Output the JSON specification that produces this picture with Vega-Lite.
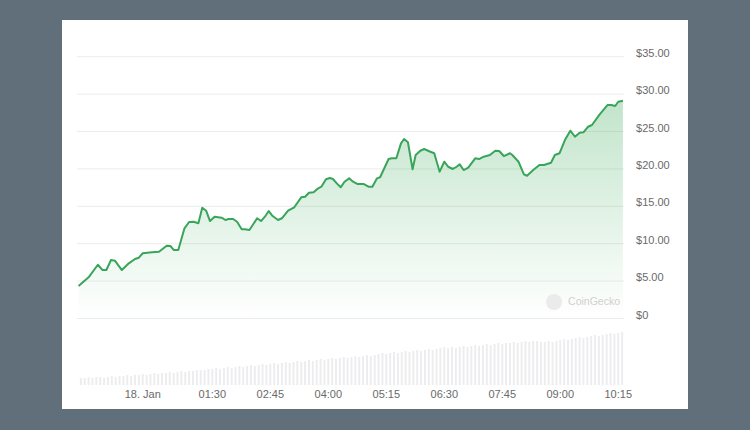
{
  "$schema": "https://vega.github.io/schema/vega-lite/v6.json",
  "width": 626,
  "height": 389,
  "autosize": "none",
  "padding": {"left": 62, "top": 20, "right": 62, "bottom": 21},
  "background": "#606f79",
  "config": {"view": {"fill": "#ffffff", "stroke": null}},
  "datasets": {
    "price": [
      {"t": "2022-01-17T22:37:00Z", "v": 4.34},
      {"t": "2022-01-17T22:50:00Z", "v": 5.51},
      {"t": "2022-01-17T23:02:00Z", "v": 7.19},
      {"t": "2022-01-17T23:08:00Z", "v": 6.48},
      {"t": "2022-01-17T23:13:00Z", "v": 6.48},
      {"t": "2022-01-17T23:19:00Z", "v": 7.82},
      {"t": "2022-01-17T23:24:00Z", "v": 7.73},
      {"t": "2022-01-17T23:33:00Z", "v": 6.48},
      {"t": "2022-01-17T23:42:00Z", "v": 7.38},
      {"t": "2022-01-17T23:50:00Z", "v": 7.95},
      {"t": "2022-01-17T23:55:00Z", "v": 8.13},
      {"t": "2022-01-18T00:00:00Z", "v": 8.72},
      {"t": "2022-01-18T00:12:00Z", "v": 8.85},
      {"t": "2022-01-18T00:21:00Z", "v": 8.93},
      {"t": "2022-01-18T00:31:00Z", "v": 9.73},
      {"t": "2022-01-18T00:36:00Z", "v": 9.69},
      {"t": "2022-01-18T00:40:00Z", "v": 9.16},
      {"t": "2022-01-18T00:46:00Z", "v": 9.16},
      {"t": "2022-01-18T00:54:00Z", "v": 12.06},
      {"t": "2022-01-18T01:00:00Z", "v": 12.90},
      {"t": "2022-01-18T01:06:00Z", "v": 12.94},
      {"t": "2022-01-18T01:12:00Z", "v": 12.73},
      {"t": "2022-01-18T01:17:00Z", "v": 14.81},
      {"t": "2022-01-18T01:22:00Z", "v": 14.41},
      {"t": "2022-01-18T01:27:00Z", "v": 13.03},
      {"t": "2022-01-18T01:33:00Z", "v": 13.61},
      {"t": "2022-01-18T01:42:00Z", "v": 13.48},
      {"t": "2022-01-18T01:47:00Z", "v": 13.17},
      {"t": "2022-01-18T01:51:00Z", "v": 13.30},
      {"t": "2022-01-18T01:57:00Z", "v": 13.30},
      {"t": "2022-01-18T02:02:00Z", "v": 12.94},
      {"t": "2022-01-18T02:08:00Z", "v": 11.93},
      {"t": "2022-01-18T02:12:00Z", "v": 11.93},
      {"t": "2022-01-18T02:18:00Z", "v": 11.83},
      {"t": "2022-01-18T02:28:00Z", "v": 13.40},
      {"t": "2022-01-18T02:33:00Z", "v": 13.03},
      {"t": "2022-01-18T02:38:00Z", "v": 13.61},
      {"t": "2022-01-18T02:43:00Z", "v": 14.37},
      {"t": "2022-01-18T02:48:00Z", "v": 13.70},
      {"t": "2022-01-18T02:55:00Z", "v": 13.17},
      {"t": "2022-01-18T03:00:00Z", "v": 13.40},
      {"t": "2022-01-18T03:08:00Z", "v": 14.41},
      {"t": "2022-01-18T03:16:00Z", "v": 14.87},
      {"t": "2022-01-18T03:25:00Z", "v": 16.20},
      {"t": "2022-01-18T03:30:00Z", "v": 16.28},
      {"t": "2022-01-18T03:35:00Z", "v": 16.82},
      {"t": "2022-01-18T03:41:00Z", "v": 16.87},
      {"t": "2022-01-18T03:47:00Z", "v": 17.41},
      {"t": "2022-01-18T03:51:00Z", "v": 17.62},
      {"t": "2022-01-18T03:57:00Z", "v": 18.61},
      {"t": "2022-01-18T04:02:00Z", "v": 18.78},
      {"t": "2022-01-18T04:06:00Z", "v": 18.65},
      {"t": "2022-01-18T04:11:00Z", "v": 18.07},
      {"t": "2022-01-18T04:16:00Z", "v": 17.54},
      {"t": "2022-01-18T04:21:00Z", "v": 18.29},
      {"t": "2022-01-18T04:27:00Z", "v": 18.74},
      {"t": "2022-01-18T04:32:00Z", "v": 18.29},
      {"t": "2022-01-18T04:38:00Z", "v": 17.98},
      {"t": "2022-01-18T04:46:00Z", "v": 17.98},
      {"t": "2022-01-18T04:52:00Z", "v": 17.62},
      {"t": "2022-01-18T04:57:00Z", "v": 17.62},
      {"t": "2022-01-18T05:03:00Z", "v": 18.74},
      {"t": "2022-01-18T05:07:00Z", "v": 18.88},
      {"t": "2022-01-18T05:18:00Z", "v": 21.32},
      {"t": "2022-01-18T05:22:00Z", "v": 21.42},
      {"t": "2022-01-18T05:28:00Z", "v": 21.42},
      {"t": "2022-01-18T05:34:00Z", "v": 23.42},
      {"t": "2022-01-18T05:38:00Z", "v": 24.00},
      {"t": "2022-01-18T05:43:00Z", "v": 23.56},
      {"t": "2022-01-18T05:49:00Z", "v": 19.95},
      {"t": "2022-01-18T05:53:00Z", "v": 21.86},
      {"t": "2022-01-18T05:59:00Z", "v": 22.43},
      {"t": "2022-01-18T06:04:00Z", "v": 22.66},
      {"t": "2022-01-18T06:12:00Z", "v": 22.30},
      {"t": "2022-01-18T06:17:00Z", "v": 22.09},
      {"t": "2022-01-18T06:24:00Z", "v": 19.63},
      {"t": "2022-01-18T06:30:00Z", "v": 20.96},
      {"t": "2022-01-18T06:35:00Z", "v": 20.29},
      {"t": "2022-01-18T06:41:00Z", "v": 19.99},
      {"t": "2022-01-18T06:46:00Z", "v": 20.29},
      {"t": "2022-01-18T06:50:00Z", "v": 20.61},
      {"t": "2022-01-18T06:55:00Z", "v": 19.85},
      {"t": "2022-01-18T07:01:00Z", "v": 20.16},
      {"t": "2022-01-18T07:10:00Z", "v": 21.42},
      {"t": "2022-01-18T07:15:00Z", "v": 21.32},
      {"t": "2022-01-18T07:21:00Z", "v": 21.63},
      {"t": "2022-01-18T07:29:00Z", "v": 21.86},
      {"t": "2022-01-18T07:36:00Z", "v": 22.43},
      {"t": "2022-01-18T07:41:00Z", "v": 22.39},
      {"t": "2022-01-18T07:47:00Z", "v": 21.72},
      {"t": "2022-01-18T07:55:00Z", "v": 22.09},
      {"t": "2022-01-18T07:58:00Z", "v": 21.86},
      {"t": "2022-01-18T08:06:00Z", "v": 20.96},
      {"t": "2022-01-18T08:13:00Z", "v": 19.28},
      {"t": "2022-01-18T08:17:00Z", "v": 19.09},
      {"t": "2022-01-18T08:25:00Z", "v": 19.85},
      {"t": "2022-01-18T08:33:00Z", "v": 20.52},
      {"t": "2022-01-18T08:39:00Z", "v": 20.52},
      {"t": "2022-01-18T08:48:00Z", "v": 20.83},
      {"t": "2022-01-18T08:53:00Z", "v": 21.86},
      {"t": "2022-01-18T08:59:00Z", "v": 22.09},
      {"t": "2022-01-18T09:06:00Z", "v": 23.86},
      {"t": "2022-01-18T09:13:00Z", "v": 25.11},
      {"t": "2022-01-18T09:19:00Z", "v": 24.30},
      {"t": "2022-01-18T09:25:00Z", "v": 24.84},
      {"t": "2022-01-18T09:30:00Z", "v": 24.89},
      {"t": "2022-01-18T09:36:00Z", "v": 25.64},
      {"t": "2022-01-18T09:41:00Z", "v": 25.87},
      {"t": "2022-01-18T09:51:00Z", "v": 27.30},
      {"t": "2022-01-18T10:01:00Z", "v": 28.54},
      {"t": "2022-01-18T10:06:00Z", "v": 28.54},
      {"t": "2022-01-18T10:11:00Z", "v": 28.41},
      {"t": "2022-01-18T10:15:00Z", "v": 28.98},
      {"t": "2022-01-18T10:21:00Z", "v": 29.12}
    ],
    "volume": [
      {"t": "2022-01-17T22:40:00Z", "vol": 7}, {"t": "2022-01-17T22:45:00Z", "vol": 7}, {"t": "2022-01-17T22:50:00Z", "vol": 8}, {"t": "2022-01-17T22:55:00Z", "vol": 7},
      {"t": "2022-01-17T23:00:00Z", "vol": 8}, {"t": "2022-01-17T23:05:00Z", "vol": 8}, {"t": "2022-01-17T23:10:00Z", "vol": 7}, {"t": "2022-01-17T23:15:00Z", "vol": 8},
      {"t": "2022-01-17T23:20:00Z", "vol": 9}, {"t": "2022-01-17T23:25:00Z", "vol": 8}, {"t": "2022-01-17T23:30:00Z", "vol": 9}, {"t": "2022-01-17T23:35:00Z", "vol": 9},
      {"t": "2022-01-17T23:40:00Z", "vol": 10}, {"t": "2022-01-17T23:45:00Z", "vol": 9}, {"t": "2022-01-17T23:50:00Z", "vol": 10}, {"t": "2022-01-17T23:55:00Z", "vol": 10},
      {"t": "2022-01-18T00:00:00Z", "vol": 11}, {"t": "2022-01-18T00:05:00Z", "vol": 10}, {"t": "2022-01-18T00:10:00Z", "vol": 11}, {"t": "2022-01-18T00:15:00Z", "vol": 12},
      {"t": "2022-01-18T00:20:00Z", "vol": 11}, {"t": "2022-01-18T00:25:00Z", "vol": 12}, {"t": "2022-01-18T00:30:00Z", "vol": 12}, {"t": "2022-01-18T00:35:00Z", "vol": 13},
      {"t": "2022-01-18T00:40:00Z", "vol": 12}, {"t": "2022-01-18T00:45:00Z", "vol": 13}, {"t": "2022-01-18T00:50:00Z", "vol": 14}, {"t": "2022-01-18T00:55:00Z", "vol": 13},
      {"t": "2022-01-18T01:00:00Z", "vol": 14}, {"t": "2022-01-18T01:05:00Z", "vol": 14}, {"t": "2022-01-18T01:10:00Z", "vol": 15}, {"t": "2022-01-18T01:15:00Z", "vol": 15},
      {"t": "2022-01-18T01:20:00Z", "vol": 15}, {"t": "2022-01-18T01:25:00Z", "vol": 16}, {"t": "2022-01-18T01:30:00Z", "vol": 16}, {"t": "2022-01-18T01:35:00Z", "vol": 17},
      {"t": "2022-01-18T01:40:00Z", "vol": 16}, {"t": "2022-01-18T01:45:00Z", "vol": 17}, {"t": "2022-01-18T01:50:00Z", "vol": 18}, {"t": "2022-01-18T01:55:00Z", "vol": 17},
      {"t": "2022-01-18T02:00:00Z", "vol": 18}, {"t": "2022-01-18T02:05:00Z", "vol": 19}, {"t": "2022-01-18T02:10:00Z", "vol": 18}, {"t": "2022-01-18T02:15:00Z", "vol": 19},
      {"t": "2022-01-18T02:20:00Z", "vol": 20}, {"t": "2022-01-18T02:25:00Z", "vol": 19}, {"t": "2022-01-18T02:30:00Z", "vol": 20}, {"t": "2022-01-18T02:35:00Z", "vol": 21},
      {"t": "2022-01-18T02:40:00Z", "vol": 20}, {"t": "2022-01-18T02:45:00Z", "vol": 21}, {"t": "2022-01-18T02:50:00Z", "vol": 22}, {"t": "2022-01-18T02:55:00Z", "vol": 21},
      {"t": "2022-01-18T03:00:00Z", "vol": 22}, {"t": "2022-01-18T03:05:00Z", "vol": 23}, {"t": "2022-01-18T03:10:00Z", "vol": 22}, {"t": "2022-01-18T03:15:00Z", "vol": 23},
      {"t": "2022-01-18T03:20:00Z", "vol": 24}, {"t": "2022-01-18T03:25:00Z", "vol": 23}, {"t": "2022-01-18T03:30:00Z", "vol": 24}, {"t": "2022-01-18T03:35:00Z", "vol": 25},
      {"t": "2022-01-18T03:40:00Z", "vol": 24}, {"t": "2022-01-18T03:45:00Z", "vol": 25}, {"t": "2022-01-18T03:50:00Z", "vol": 26}, {"t": "2022-01-18T03:55:00Z", "vol": 25},
      {"t": "2022-01-18T04:00:00Z", "vol": 26}, {"t": "2022-01-18T04:05:00Z", "vol": 27}, {"t": "2022-01-18T04:10:00Z", "vol": 26}, {"t": "2022-01-18T04:15:00Z", "vol": 27},
      {"t": "2022-01-18T04:20:00Z", "vol": 28}, {"t": "2022-01-18T04:25:00Z", "vol": 27}, {"t": "2022-01-18T04:30:00Z", "vol": 28}, {"t": "2022-01-18T04:35:00Z", "vol": 29},
      {"t": "2022-01-18T04:40:00Z", "vol": 28}, {"t": "2022-01-18T04:45:00Z", "vol": 29}, {"t": "2022-01-18T04:50:00Z", "vol": 30}, {"t": "2022-01-18T04:55:00Z", "vol": 29},
      {"t": "2022-01-18T05:00:00Z", "vol": 30}, {"t": "2022-01-18T05:05:00Z", "vol": 31}, {"t": "2022-01-18T05:10:00Z", "vol": 32}, {"t": "2022-01-18T05:15:00Z", "vol": 31},
      {"t": "2022-01-18T05:20:00Z", "vol": 32}, {"t": "2022-01-18T05:25:00Z", "vol": 33}, {"t": "2022-01-18T05:30:00Z", "vol": 32}, {"t": "2022-01-18T05:35:00Z", "vol": 33},
      {"t": "2022-01-18T05:40:00Z", "vol": 34}, {"t": "2022-01-18T05:45:00Z", "vol": 33}, {"t": "2022-01-18T05:50:00Z", "vol": 34}, {"t": "2022-01-18T05:55:00Z", "vol": 35},
      {"t": "2022-01-18T06:00:00Z", "vol": 34}, {"t": "2022-01-18T06:05:00Z", "vol": 35}, {"t": "2022-01-18T06:10:00Z", "vol": 36}, {"t": "2022-01-18T06:15:00Z", "vol": 35},
      {"t": "2022-01-18T06:20:00Z", "vol": 36}, {"t": "2022-01-18T06:25:00Z", "vol": 37}, {"t": "2022-01-18T06:30:00Z", "vol": 38}, {"t": "2022-01-18T06:35:00Z", "vol": 37},
      {"t": "2022-01-18T06:40:00Z", "vol": 38}, {"t": "2022-01-18T06:45:00Z", "vol": 37}, {"t": "2022-01-18T06:50:00Z", "vol": 38}, {"t": "2022-01-18T06:55:00Z", "vol": 39},
      {"t": "2022-01-18T07:00:00Z", "vol": 38}, {"t": "2022-01-18T07:05:00Z", "vol": 39}, {"t": "2022-01-18T07:10:00Z", "vol": 40}, {"t": "2022-01-18T07:15:00Z", "vol": 39},
      {"t": "2022-01-18T07:20:00Z", "vol": 40}, {"t": "2022-01-18T07:25:00Z", "vol": 41}, {"t": "2022-01-18T07:30:00Z", "vol": 40}, {"t": "2022-01-18T07:35:00Z", "vol": 41},
      {"t": "2022-01-18T07:40:00Z", "vol": 42}, {"t": "2022-01-18T07:45:00Z", "vol": 41}, {"t": "2022-01-18T07:50:00Z", "vol": 42}, {"t": "2022-01-18T07:55:00Z", "vol": 42},
      {"t": "2022-01-18T08:00:00Z", "vol": 43}, {"t": "2022-01-18T08:05:00Z", "vol": 42}, {"t": "2022-01-18T08:10:00Z", "vol": 43}, {"t": "2022-01-18T08:15:00Z", "vol": 44},
      {"t": "2022-01-18T08:20:00Z", "vol": 43}, {"t": "2022-01-18T08:25:00Z", "vol": 44}, {"t": "2022-01-18T08:30:00Z", "vol": 44}, {"t": "2022-01-18T08:35:00Z", "vol": 43},
      {"t": "2022-01-18T08:40:00Z", "vol": 43}, {"t": "2022-01-18T08:45:00Z", "vol": 44}, {"t": "2022-01-18T08:50:00Z", "vol": 43}, {"t": "2022-01-18T08:55:00Z", "vol": 44},
      {"t": "2022-01-18T09:00:00Z", "vol": 45}, {"t": "2022-01-18T09:05:00Z", "vol": 46}, {"t": "2022-01-18T09:10:00Z", "vol": 45}, {"t": "2022-01-18T09:15:00Z", "vol": 46},
      {"t": "2022-01-18T09:20:00Z", "vol": 47}, {"t": "2022-01-18T09:25:00Z", "vol": 48}, {"t": "2022-01-18T09:30:00Z", "vol": 47}, {"t": "2022-01-18T09:35:00Z", "vol": 48},
      {"t": "2022-01-18T09:40:00Z", "vol": 49}, {"t": "2022-01-18T09:45:00Z", "vol": 50}, {"t": "2022-01-18T09:50:00Z", "vol": 49}, {"t": "2022-01-18T09:55:00Z", "vol": 50},
      {"t": "2022-01-18T10:00:00Z", "vol": 51}, {"t": "2022-01-18T10:05:00Z", "vol": 52}, {"t": "2022-01-18T10:10:00Z", "vol": 51}, {"t": "2022-01-18T10:15:00Z", "vol": 52},
      {"t": "2022-01-18T10:20:00Z", "vol": 53}
    ],
    "levels": [
      {"v": 0, "label": "$0"}, {"v": 5, "label": "$5.00"}, {"v": 10, "label": "$10.00"}, {"v": 15, "label": "$15.00"},
      {"v": 20, "label": "$20.00"}, {"v": 25, "label": "$25.00"}, {"v": 30, "label": "$30.00"}, {"v": 35, "label": "$35.00"}
    ],
    "xticks": [
      {"t": "2022-01-18T00:00:00Z", "label": "18. Jan"},
      {"t": "2022-01-18T01:30:00Z", "label": "01:30"},
      {"t": "2022-01-18T02:45:00Z", "label": "02:45"},
      {"t": "2022-01-18T04:00:00Z", "label": "04:00"},
      {"t": "2022-01-18T05:15:00Z", "label": "05:15"},
      {"t": "2022-01-18T06:30:00Z", "label": "06:30"},
      {"t": "2022-01-18T07:45:00Z", "label": "07:45"},
      {"t": "2022-01-18T09:00:00Z", "label": "09:00"},
      {"t": "2022-01-18T10:15:00Z", "label": "10:15"}
    ],
    "brand": [
      {"t": "2022-01-18T08:52:00Z", "v": 2.2, "label": "CoinGecko"}
    ]
  },
  "layer": [
    {
      "data": {"name": "volume"},
      "mark": {"type": "bar", "size": 2, "color": "#ededef"},
      "encoding": {
        "x": {"field": "t", "type": "temporal", "axis": null,
          "scale": {"type": "utc", "padding": 0, "domain": [1642457736000, 1642506312000]}},
        "y": {"field": "vol", "type": "quantitative", "scale": {"domain": [-24, 365], "zero": false, "nice": false}, "axis": null},
        "y2": {"datum": 0}
      }
    },
    {
      "layer": [
        {
          "data": {"name": "levels"},
          "mark": {"type": "rule", "color": "#ececec", "strokeWidth": 1},
          "encoding": {
            "x": {"datum": 1642458882000, "type": "temporal", "axis": null},
            "x2": {"datum": 1642501344000},
            "y": {"field": "v", "type": "quantitative", "scale": {"domain": [-12.1, 39.91], "zero": false, "nice": false}, "axis": null}
          }
        },
        {
          "data": {"name": "levels"},
          "mark": {"type": "text", "align": "left", "baseline": "alphabetic", "font": "Liberation Sans", "fontSize": 11, "color": "#6a6a6a"},
          "encoding": {
            "x": {"datum": 1642502280000, "type": "temporal", "axis": null},
            "y": {"field": "v", "type": "quantitative", "scale": {"domain": [-12.1, 39.91], "zero": false, "nice": false}, "axis": null},
            "text": {"field": "label"}
          }
        },
        {
          "data": {"name": "xticks"},
          "mark": {"type": "text", "align": "center", "baseline": "middle", "font": "Liberation Sans", "fontSize": 11, "color": "#6a6a6a"},
          "encoding": {
            "x": {"field": "t", "type": "temporal", "axis": null},
            "y": {"datum": -10.23, "type": "quantitative", "axis": null},
            "text": {"field": "label"}
          }
        },
        {
          "data": {"name": "price"},
          "mark": {
            "type": "area",
            "color": {
              "gradient": "linear",
              "x1": 0, "y1": 0, "x2": 0, "y2": 1,
              "stops": [
                {"offset": 0, "color": "rgba(52,168,83,0.30)"},
                {"offset": 0.6, "color": "rgba(52,168,83,0.12)"},
                {"offset": 1, "color": "rgba(52,168,83,0)"}
              ]
            }
          },
          "encoding": {
            "x": {"field": "t", "type": "temporal", "axis": null},
            "y": {"field": "v", "type": "quantitative", "scale": {"domain": [-12.1, 39.91], "zero": false, "nice": false}, "axis": null},
            "y2": {"datum": 0}
          }
        },
        {
          "data": {"name": "price"},
          "mark": {"type": "line", "color": "#38a55a", "strokeWidth": 2, "strokeJoin": "round"},
          "encoding": {
            "x": {"field": "t", "type": "temporal", "axis": null},
            "y": {"field": "v", "type": "quantitative", "scale": {"domain": [-12.1, 39.91], "zero": false, "nice": false}, "axis": null}
          }
        },
        {
          "data": {"name": "brand"},
          "mark": {"type": "point", "filled": true, "size": 260, "color": "#ebebeb", "opacity": 1},
          "encoding": {
            "x": {"field": "t", "type": "temporal", "axis": null},
            "y": {"field": "v", "type": "quantitative", "scale": {"domain": [-12.1, 39.91], "zero": false, "nice": false}, "axis": null}
          }
        },
        {
          "data": {"name": "brand"},
          "mark": {"type": "text", "align": "left", "baseline": "middle", "dx": 14, "font": "Liberation Sans", "fontSize": 10.5, "color": "#d0d0d0"},
          "encoding": {
            "x": {"field": "t", "type": "temporal", "axis": null},
            "y": {"field": "v", "type": "quantitative", "scale": {"domain": [-12.1, 39.91], "zero": false, "nice": false}, "axis": null},
            "text": {"field": "label"}
          }
        }
      ]
    }
  ],
  "resolve": {"scale": {"y": "independent"}}
}
